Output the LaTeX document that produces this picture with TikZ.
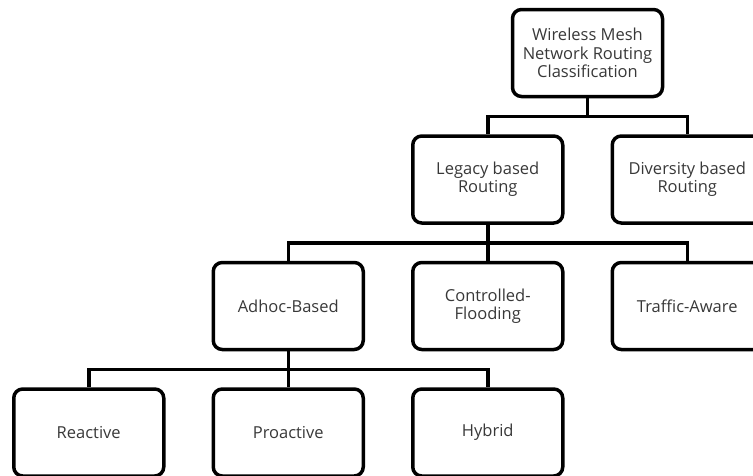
\documentclass[tikz,border=0pt]{standalone}
\usepackage{fontspec}
\setmainfont{Open Sans}
\usetikzlibrary{trees}

\begin{document}
\begin{tikzpicture}[x=1pt,y=1pt,
	box/.style={rectangle,rounded corners=9pt,draw,line width=3.5pt,minimum width=150pt,minimum height=87pt,inner sep=2pt,align=center,text=black!78,font=\fontsize{16.5}{18.4}\selectfont},
	level distance=126.5pt,sibling distance=199.5pt,
	edge from parent/.style={draw,line width=3.5pt},
	edge from parent path={(\tikzparentnode.south) -- +(0,-18) -| (\tikzchildnode.north)}]
		\useasboundingbox (0,0) rectangle (753,-475);
		\clip (0,0) rectangle (753,-475);
		\node [box] (root) at (587.5,-53) {Wireless Mesh\\Network Routing\\Classification}
		child { node [box] (legacy) {Legacy based\\Routing}
			child { node [box] (adhoc) {Adhoc-Based}
				child { node [box] (reactive) {Reactive} }
				child { node [box] (proactive) {Proactive} }
				child { node [box] (hybrid) {Hybrid} }
			}
			child { node [box] (controlled) {Controlled-\\Flooding} }
			child { node [box] (traffic) {Traffic-Aware} }
		}
		child { node [box] (diversity) {Diversity based\\Routing} };
	\end{tikzpicture}
\end{document}
